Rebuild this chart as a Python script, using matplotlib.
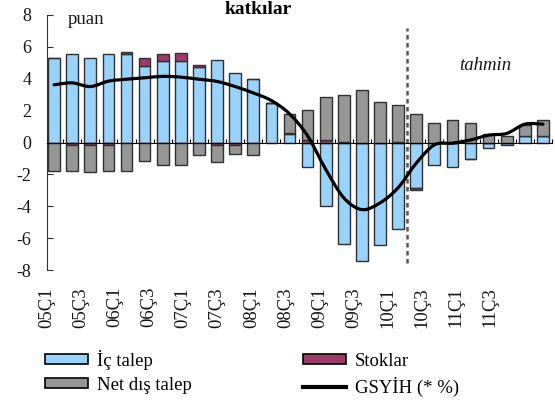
import matplotlib
matplotlib.use("Agg")
import matplotlib.pyplot as plt
import numpy as np
from matplotlib.path import Path
from matplotlib.patches import PathPatch, Patch
from matplotlib.lines import Line2D

plt.rcParams['font.family'] = ['Liberation Serif', 'DejaVu Serif']
plt.rcParams['axes.unicode_minus'] = False

# quarters 05Ç1 .. 11Ç4
quarters = [f"{y:02d}Ç{q}" for y in range(5, 12) for q in range(1, 5)]
tick_labels = quarters[::2]

ic_talep = [5.32, 5.57, 5.30, 5.57, 5.53, 4.83, 5.11, 5.11, 4.73, 5.15, 4.35, 4.00, 2.46, 0.52,
            -1.51, -4.00, -6.37, -7.43, -6.46, -5.41, -2.84, -1.41, -1.51, -1.01, -0.32, -0.17, 0.42, 0.42]
stoklar = [0.00, -0.15, -0.15, -0.15, 0.12, 0.49, 0.46, 0.50, 0.12, -0.15, -0.15, 0.00, 0.00, 0.10,
           0.15, 0.15, 0.05, 0.00, 0.00, 0.05, -0.17, 0.00, 0.00, -0.05, 0.00, 0.00, 0.00, 0.00]
net_dis = [-1.79, -1.64, -1.70, -1.64, -1.79, -1.16, -1.41, -1.41, -0.78, -1.07, -0.55, -0.80, 0.00, 1.16,
           1.91, 2.69, 2.95, 3.30, 2.56, 2.32, 1.79, 1.22, 1.41, 1.20, 0.52, 0.42, 0.67, 0.99]
gsyih = [3.62, 3.74, 3.51, 3.85, 3.97, 4.06, 4.15, 4.10, 3.97, 3.83, 3.51, 3.11, 2.63, 1.80,
         0.42, -1.68, -3.47, -4.21, -3.79, -2.84, -1.30, -0.15, -0.04, 0.16, 0.46, 0.57, 1.15, 1.15]

c_ic = '#99d3fb'
c_stok = '#9e3a68'
c_net = '#969696'
edge = '#303030'

fig = plt.figure(figsize=(5.55, 4.03), dpi=100)
ax = fig.add_axes([0.0841, 0.33, 0.9105, 0.6328])

x = np.arange(len(quarters))
pos_base = np.zeros(len(x))
neg_base = np.zeros(len(x))
# excel style stacking: positives up from 0, negatives down from 0
for vals, col in [(ic_talep, c_ic), (stoklar, c_stok), (net_dis, c_net)]:
    v = np.array(vals)
    bottom = np.where(v >= 0, pos_base, neg_base)
    ax.bar(x, v, bottom=bottom, width=0.645, color=col, edgecolor=edge, linewidth=1.0, zorder=2)
    pos_base += np.where(v > 0, v, 0)
    neg_base += np.where(v < 0, v, 0)

# smoothed line like excel (catmull-rom as cubic bezier)
pts = np.column_stack([x, gsyih]).astype(float)
ext = np.vstack([pts[0], pts, pts[-1]])
verts = [tuple(pts[0])]
codes = [Path.MOVETO]
for i in range(1, len(ext) - 2):
    p0, p1, p2, p3 = ext[i - 1], ext[i], ext[i + 1], ext[i + 2]
    verts += [tuple(p1 + (p2 - p0) / 6), tuple(p2 - (p3 - p1) / 6), tuple(p2)]
    codes += [Path.CURVE4] * 3
ax.add_patch(PathPatch(Path(verts, codes), fill=False, lw=2.3, edgecolor='black',
                       capstyle='round', joinstyle='round', zorder=4))

ax.plot([19.5, 19.5], [-7.55, 7.2], color='#555555', lw=1.8, ls=(0, (1.8, 1.4)), zorder=3)

ax.set_xlim(-0.41, 27.5)
ax.set_ylim(-8, 8)
ax.set_yticks(np.arange(-8, 9, 2))
ax.tick_params(axis='y', direction='in', length=4, pad=11, labelsize=13, color=edge, labelcolor='#151515')
ax.set_xticks(x + 0.5)
ax.tick_params(axis='x', direction='in', length=3, labelbottom=False, color='black')
for s in ['top', 'right']:
    ax.spines[s].set_visible(False)
ax.spines['left'].set_color(edge)
ax.spines['bottom'].set_position(('data', 0))
ax.spines['bottom'].set_zorder(5)

# category labels in the original drift left of their bars
for k, lab in enumerate(tick_labels):
    ax.annotate(lab, xy=(-0.41 + 1.884 * k, 0), xycoords=('data', 'axes fraction'),
                xytext=(0, -12.2), textcoords='offset points', rotation=90,
                ha='center', va='top', fontsize=13.5, color='#151515')

ax.text(0.77, 7.42, 'puan', ha='left', va='baseline', fontsize=13.5, color='#151515')
ax.text(23.8, 4.8, 'tahmin', style='italic', ha='center', va='center', fontsize=13.5, color='#151515')
# title sits at the very top edge (cropped in the source), kept just inside here
fig.text(225 / 555, 1 - 13.5 / 403, 'katkılar', fontweight='bold', ha='left', va='baseline', fontsize=14)

handles = [Patch(facecolor=c_ic, edgecolor='black', lw=1.2),
           Patch(facecolor=c_net, edgecolor='black', lw=1.2),
           Patch(facecolor=c_stok, edgecolor='black', lw=1.2),
           Line2D([], [], color='black', lw=3)]
labels = ['İç talep', 'Net dış talep', 'Stoklar', 'GSYİH (* %)']
fig.legend(handles, labels, ncol=2, loc='upper left', bbox_to_anchor=(45 / 555, 1 - 350 / 403),
           frameon=False, fontsize=13.5, borderpad=0, borderaxespad=0, handlelength=2.3,
           handleheight=0.45, handletextpad=0.48, columnspacing=5.9, labelspacing=0.35)

fig.savefig('out.png', dpi=100)
